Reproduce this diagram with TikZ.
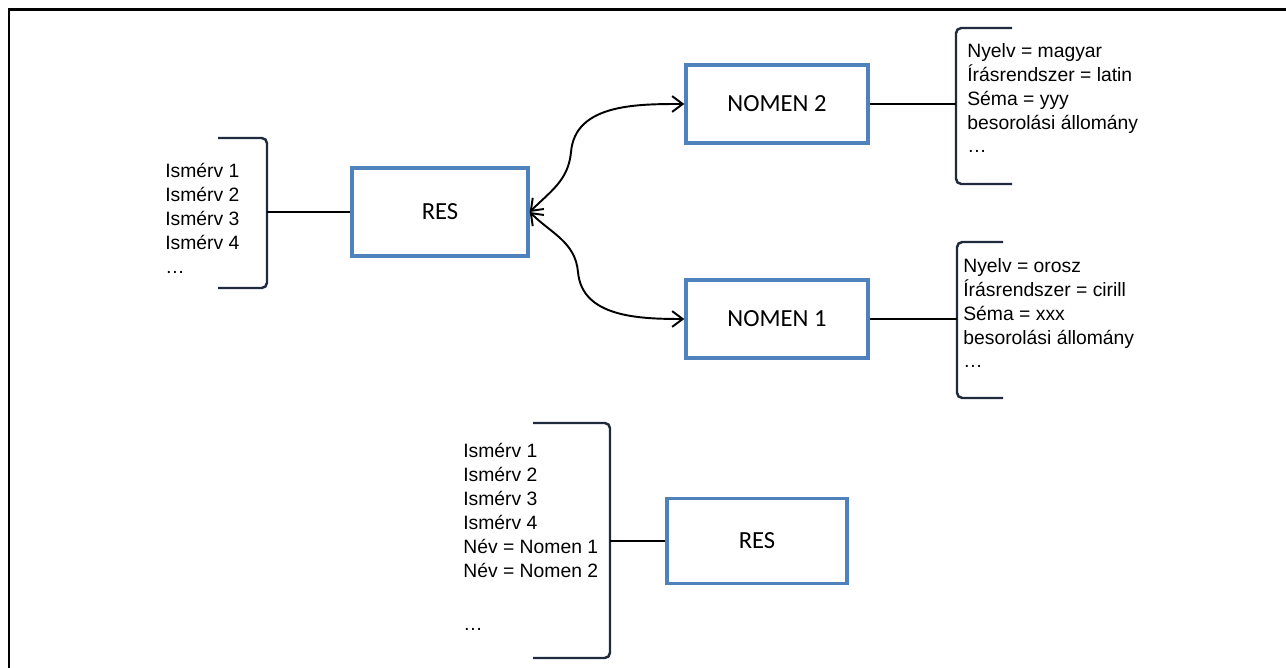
\documentclass[tikz,border=0pt]{standalone}
\usepackage{fontspec}
\setmainfont{Liberation Sans}
\newfontfamily\boxfont{Carlito}
\usetikzlibrary{arrows.meta}
\definecolor{boxblue}{HTML}{4F81BD}
\definecolor{bracecol}{HTML}{1F2A3C}

\tikzset{
  resbox/.style={draw=boxblue, line width=2pt, font=\boxfont\fontsize{14}{16}\selectfont},
  attrs/.style={anchor=north west, inner sep=0pt, align=left, font=\fontsize{11}{13.6}\selectfont},
  bracket/.style={draw=bracecol, line width=1.4pt, rounded corners=3pt},
  link/.style={line width=1.1pt},
}

\begin{document}
\begin{tikzpicture}[x=0.02cm, y=-0.02cm]
    \useasboundingbox (0,0) rectangle (1286,668);
    % frame
    \draw[line width=1.7pt] (9,668) -- (9,10) -- (1286,10);

    % boxes
    \node[resbox, minimum width=3.52cm, minimum height=1.76cm] (res) at (440,212) {RES};
    \node[resbox, minimum width=3.64cm, minimum height=1.56cm] (nomen2) at (777,104) {NOMEN 2};
    \node[resbox, minimum width=3.64cm, minimum height=1.56cm] (nomen1) at (777,319) {NOMEN 1};
    \node[resbox, minimum width=3.6cm, minimum height=1.7cm] (res2) at (757,541) {RES};

    % attribute lists
    \node[attrs] (isA) at (165,163) {Ismérv 1\\Ismérv 2\\Ismérv 3\\Ismérv 4\\…};
    \node[attrs] (hun) at (967,43) {Nyelv = magyar\\Írásrendszer = latin\\Séma = yyy\\besorolási állomány\\…};
    \node[attrs] (rus) at (963,258) {Nyelv = orosz\\Írásrendszer = cirill\\Séma = xxx\\besorolási állomány\\…};
    \node[attrs] (isB) at (463,443) {Ismérv 1\\Ismérv 2\\Ismérv 3\\Ismérv 4\\Név = Nomen 1\\Név = Nomen 2\\[17pt]…};

    % brackets
    \draw[bracket] (218,138) -- (267,138) -- (267,288) -- (218,288);
    \coordinate (brA) at (267,212);
    \draw[bracket] (1012,28) -- (956,28) -- (956,184) -- (1012,184);
    \coordinate (brB) at (956,104);
    \draw[bracket] (1003,242) -- (957,242) -- (957,398) -- (1003,398);
    \coordinate (brC) at (957,319);
    \draw[bracket] (533,423) -- (610,423) -- (610,658) -- (533,658);
    \coordinate (brD) at (610,541);

    % connectors
    \draw[link] (brA) -- (res.west);
    \draw[link] (nomen2.east) -- (brB);
    \draw[link] (nomen1.east) -- (brC);
    \draw[link] (brD) -- (res2.west);
    \coordinate (up) at (571,152);
    \coordinate (down) at (578,272);
    \draw[link, {Straight Barb[length=6pt,width=9pt]}-{Straight Barb[length=6pt,width=9pt]}]
        (res.east) to[out=45, in=-95] (up) to[out=85, in=180] (nomen2.west);
    \draw[link, {Straight Barb[length=6pt,width=9pt]}-{Straight Barb[length=6pt,width=9pt]}]
        (res.east) to[out=-45, in=95] (down) to[out=-85, in=180] (nomen1.west);
\end{tikzpicture}
\end{document}
